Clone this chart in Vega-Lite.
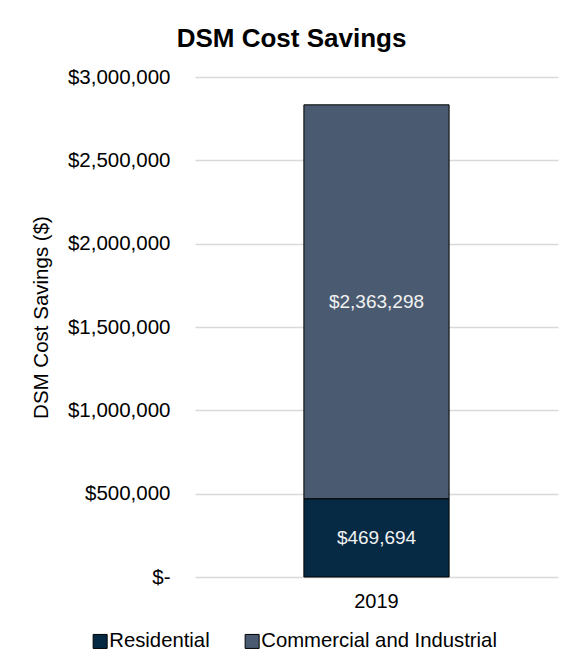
{
  "$schema": "https://vega.github.io/schema/vega-lite/v6.json",
  "autosize": "none",
  "width": 363,
  "height": 500,
  "padding": {"left": 195, "top": 77, "right": 13, "bottom": 89},
  "background": "white",
  "config": {
    "font": "Liberation Sans",
    "view": {"stroke": null},
    "axis": {"labelFont": "Liberation Sans", "titleFont": "Liberation Sans", "labelColor": "#000000", "titleColor": "#000000"}
  },
  "title": {
    "text": "DSM Cost Savings",
    "fontSize": 26,
    "fontWeight": "bold",
    "font": "Liberation Sans",
    "color": "#000000",
    "anchor": "middle",
    "frame": "group",
    "dx": -85,
    "offset": 15
  },
  "data": {
    "values": [
      {"year": "2019", "category": "Residential", "value": 469694},
      {"year": "2019", "category": "Commercial and Industrial", "value": 2363298}
    ]
  },
  "layer": [
    {
      "mark": {"type": "bar", "stroke": "#000000", "strokeWidth": 1},
      "encoding": {
        "x": {
          "field": "year", "type": "nominal",
          "scale": {"paddingInner": 0.6, "paddingOuter": 0.3},
          "axis": {"title": null, "labelAngle": 0, "labelFontSize": 20, "labelPadding": 14, "ticks": false, "domain": false}
        },
        "y": {
          "field": "value", "type": "quantitative", "stack": "zero",
          "scale": {"domain": [0, 3000000], "nice": false},
          "axis": {
            "title": "DSM Cost Savings ($)",
            "titleFontSize": 20.5,
            "titleFontWeight": "normal",
            "titleAngle": -90,
            "titleX": -154,
            "titleY": 240,
            "titleBaseline": "middle",
            "titleAlign": "center",
            "values": [0, 500000, 1000000, 1500000, 2000000, 2500000, 3000000],
            "labelExpr": "datum.value == 0 ? '$-' : format(datum.value, '$,.0f')",
            "labelFontSize": 20.5,
            "labelPadding": 25,
            "ticks": false,
            "domain": false,
            "grid": true,
            "gridColor": "#d9d9d9",
            "gridWidth": 1.3
          }
        },
        "color": {
          "field": "category", "type": "nominal",
          "scale": {"domain": ["Residential", "Commercial and Industrial"], "range": ["#072a44", "#4a5b71"]},
          "legend": {
            "title": null,
            "orient": "none",
            "direction": "horizontal",
            "legendX": -105,
            "legendY": 554,
            "symbolType": "square",
            "symbolSize": 196,
            "symbolStrokeColor": "#000000",
            "symbolStrokeWidth": 1,
            "labelFontSize": 20.3,
            "labelFont": "Liberation Sans",
            "labelColor": "#000000",
            "labelOffset": -1,
            "columnPadding": 32,
            "labelLimit": 400
          }
        },
        "order": {"field": "category", "sort": "descending"}
      }
    },
    {
      "transform": [
        {"stack": "value", "groupby": ["year"], "sort": [{"field": "category", "order": "descending"}], "as": ["y0", "y1"]},
        {"fold": ["y0", "y1"], "as": ["edge", "pos"]}
      ],
      "mark": {"type": "text", "color": "#f2f2f2", "fontSize": 19, "font": "Liberation Sans", "baseline": "middle"},
      "encoding": {
        "x": {"field": "year", "type": "nominal"},
        "y": {"aggregate": "mean", "field": "pos", "type": "quantitative"},
        "detail": {"field": "category", "type": "nominal"},
        "text": {"aggregate": "max", "field": "value", "type": "quantitative", "format": "$,.0f"}
      }
    }
  ]
}
